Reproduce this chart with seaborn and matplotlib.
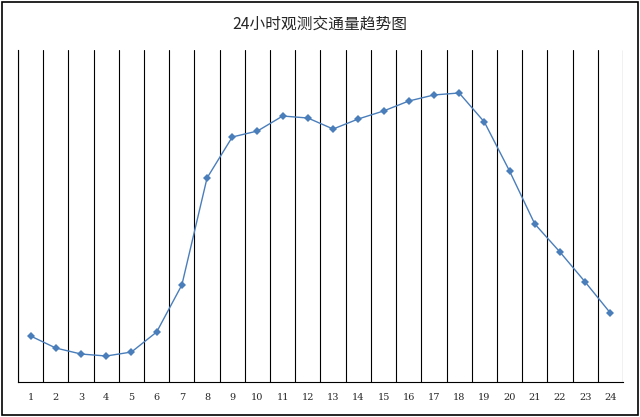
import numpy as np
import pandas as pd
import matplotlib
matplotlib.use('Agg')
import matplotlib.pyplot as plt
import seaborn as sns
from matplotlib.patches import Rectangle

hours = list(range(1, 25))
traffic = [485, 358, 295, 274, 316, 527, 1023, 2151, 2583, 2646, 2804, 2783,
           2667, 2773, 2857, 2962, 3026, 3047, 2741, 2224, 1666, 1370, 1054, 727]
title = '24小时观测交通量趋势图'

df = pd.DataFrame({'hour': hours, 'traffic': traffic})

sns.set_style('white')
plt.rcParams['font.family'] = ['Noto Sans CJK SC', 'DejaVu Sans']

fig = plt.figure(figsize=(6.4, 4.17), dpi=100)
ax = fig.add_axes([18 / 640, 35 / 417, 605 / 640, 332 / 417])

sns.lineplot(data=df, x='hour', y='traffic', ax=ax, color='#4a7ebb',
             linewidth=1, marker='D', markersize=4, markeredgewidth=0)

ax.set_xlim(0.5, 24.5)
ax.set_ylim(0, 3500)
ax.set_xticks(hours)
ax.set_xticklabels([str(h) for h in hours], fontsize=7, family='DejaVu Serif')
ax.set_xticks(np.arange(0.5, 25, 1), minor=True)
ax.tick_params(axis='x', which='both', length=0, pad=8)
ax.grid(True, which='minor', axis='x', color='black', linewidth=0.8)
ax.set_yticks([])
ax.set_xlabel('')
ax.set_ylabel('')
for side in ['top', 'right']:
    ax.spines[side].set_visible(False)
for side in ['left', 'bottom']:
    ax.spines[side].set_color('black')
    ax.spines[side].set_linewidth(0.8)

fig.text(0.5, 1 - 24 / 417, title, ha='center', va='center', fontsize=11.3)
fig.patches.append(Rectangle((2 / 640, 2 / 417), 636 / 640, 413 / 417,
                             transform=fig.transFigure, fill=False,
                             edgecolor='black', linewidth=1.2))

fig.savefig('out.png', dpi=100)
